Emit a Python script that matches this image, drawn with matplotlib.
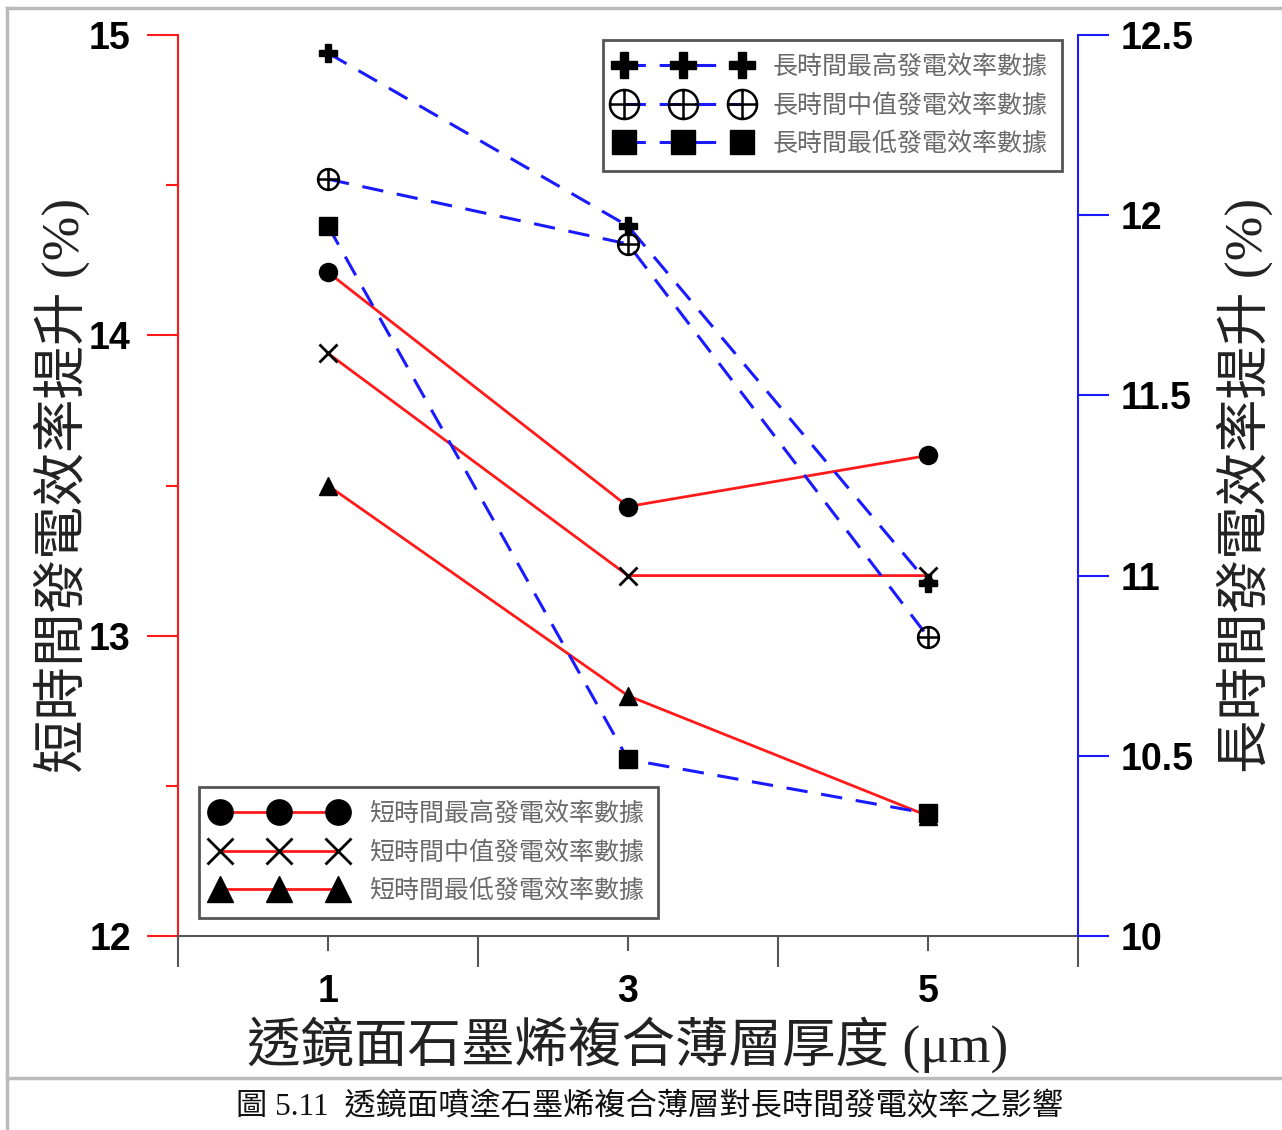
import matplotlib
matplotlib.use("Agg")
import matplotlib.pyplot as plt
from matplotlib.path import Path
from matplotlib.lines import Line2D
from matplotlib.legend import Legend

# ---- data ----
thickness = [1, 3, 5]
short_high = [14.21, 13.43, 13.60]
short_mid = [13.94, 13.20, 13.20]
short_low = [13.50, 12.80, 12.40]
long_high = [12.45, 11.97, 10.98]
long_mid = [12.10, 11.92, 10.83]
long_low = [11.97, 10.49, 10.34]

short_labels = ["短時間最高發電效率數據", "短時間中值發電效率數據", "短時間最低發電效率數據"]
long_labels = ["長時間最高發電效率數據", "長時間中值發電效率數據", "長時間最低發電效率數據"]
xticks = [1, 3, 5]
left_ticks = [12, 13, 14, 15]
right_ticks = [10, 10.5, 11, 11.5, 12, 12.5]

W, H = 1282, 1130
fig = plt.figure(figsize=(W / 100, H / 100), dpi=100)
ax = fig.add_axes([178 / W, 1 - 936 / H, 900 / W, 901 / H])
ax2 = ax.twinx()

RED = "#ff1a1a"
BLUE = "#1a1aff"
cjk = ["Noto Sans CJK TC", "DejaVu Sans"]
serif_cjk = ["Liberation Serif", "Noto Sans CJK TC", "DejaVu Sans"]

# circle-plus marker
circ = Path.unit_circle()
cross = Path([(-1, 0), (1, 0), (0, -1), (0, 1)],
             [Path.MOVETO, Path.LINETO, Path.MOVETO, Path.LINETO])
oplus = Path.make_compound_path(circ, cross)

ms = 13
h1, = ax.plot(thickness, short_high, color=RED, lw=2, marker="o", ms=ms,
              mfc="black", mec="black", zorder=3)
h2, = ax.plot(thickness, short_mid, color=RED, lw=2, marker="x", ms=ms,
              mec="black", mew=2, zorder=3)
h3, = ax.plot(thickness, short_low, color=RED, lw=2, marker="^", ms=ms,
              mfc="black", mec="black", zorder=3)

dash = (7, 4.5)
g1, = ax2.plot(thickness, long_high, color=BLUE, lw=2.2, ls=(0, dash), marker="P",
               ms=ms, mfc="black", mec="black", zorder=3)
g2, = ax2.plot(thickness, long_mid, color=BLUE, lw=2.2, ls=(0, dash), marker=oplus,
               ms=ms * 1.15, mfc="none", mec="black", mew=1.8, zorder=3)
g3, = ax2.plot(thickness, long_low, color=BLUE, lw=2.2, ls=(0, dash), marker="s",
               ms=ms * 0.95, mfc="black", mec="black", zorder=3)

ax.set_xlim(0, 6)
ax.set_ylim(12, 15)
ax2.set_ylim(10, 12.5)

# spines
for a in (ax, ax2):
    a.spines["top"].set_visible(False)
ax.spines["right"].set_visible(False)
ax2.spines["left"].set_visible(False)
ax2.spines["bottom"].set_visible(False)
ax.spines["left"].set_color(RED)
ax.spines["left"].set_linewidth(1.5)
ax2.spines["right"].set_color(BLUE)
ax2.spines["right"].set_linewidth(1.5)
ax.spines["bottom"].set_color("#555555")
ax.spines["bottom"].set_linewidth(1.5)

tickfont = dict(family="Liberation Sans", weight="bold", size=27)

# x ticks
ax.set_xticks(xticks)
ax.set_xticks([0, 2, 4, 6], minor=True)
ax.set_xticklabels([str(v) for v in xticks], fontdict=tickfont)
ax.tick_params(axis="x", which="major", direction="out", length=11, width=1.5,
               color="#555555", pad=16)
ax.tick_params(axis="x", which="minor", direction="out", length=22, width=1.5,
               color="#555555")

# left y ticks
ax.set_yticks(left_ticks)
ax.set_yticks([12.5, 13.5, 14.5], minor=True)
ax.set_yticklabels([str(v) for v in left_ticks], fontdict=tickfont)
ax.tick_params(axis="y", which="major", direction="out", length=22, width=1.5,
               color=RED, pad=12)
ax.tick_params(axis="y", which="minor", direction="out", length=9, width=1.5,
               color=RED)

# right y ticks
ax2.set_yticks(right_ticks)
ax2.set_yticklabels(["10", "10.5", "11", "11.5", "12", "12.5"], fontdict=tickfont)
ax2.tick_params(axis="y", which="major", direction="out", length=22, width=1.5,
                color=BLUE, pad=9)

# axis labels
fig.text(628 / W, 1 - 1045 / H, "透鏡面石墨烯複合薄層厚度 (μm)", family=serif_cjk,
         fontsize=38.5, ha="center", va="center", color="#222222", weight="light")
fig.text(62 / W, 1 - 485 / H, "短時間發電效率提升 (%)", family=serif_cjk,
         fontsize=38.5, ha="center", va="center", rotation=90, color="#222222", weight="light")
fig.text(1245 / W, 1 - 485 / H, "長時間發電效率提升 (%)", family=serif_cjk,
         fontsize=38.5, ha="center", va="center", rotation=90, color="#222222", weight="light")

# legends
legprops = dict(numpoints=3, handlelength=5.3, handletextpad=0.95, labelspacing=0.5,
                fancybox=False, framealpha=1, edgecolor="#555555", borderpad=0.55,
                borderaxespad=0, markerscale=1.4,
                prop=dict(family=cjk, size=18))
leg_long = Legend(ax2, [g1, g2, g3], long_labels, loc="upper left",
                  bbox_to_anchor=(603 / W, 1 - 40 / H), bbox_transform=fig.transFigure,
                  **legprops)
leg_short = Legend(ax2, [h1, h2, h3], short_labels, loc="upper left",
                   bbox_to_anchor=(199 / W, 1 - 787 / H), bbox_transform=fig.transFigure,
                   **legprops)
for lg in (leg_long, leg_short):
    lg.get_frame().set_linewidth(2)
    for t in lg.get_texts():
        t.set_color("#6a6a6a")
    ax2.add_artist(lg)

# figure border and caption
border = dict(color="#bbbbbb", lw=2.5, transform=fig.transFigure)
fig.add_artist(Line2D([7 / W, 1], [1 - 8 / H, 1 - 8 / H], **border))
fig.add_artist(Line2D([7 / W, 7 / W], [1 - 8 / H, 0], **border))
fig.add_artist(Line2D([7 / W, 1], [1 - 1078 / H, 1 - 1078 / H], **border))
fig.text(650 / W, 1 - 1107 / H, "圖 5.11  透鏡面噴塗石墨烯複合薄層對長時間發電效率之影響",
         family=serif_cjk, fontsize=22.5, ha="center", va="center", color="#111111")

fig.savefig("out.png", dpi=100)
